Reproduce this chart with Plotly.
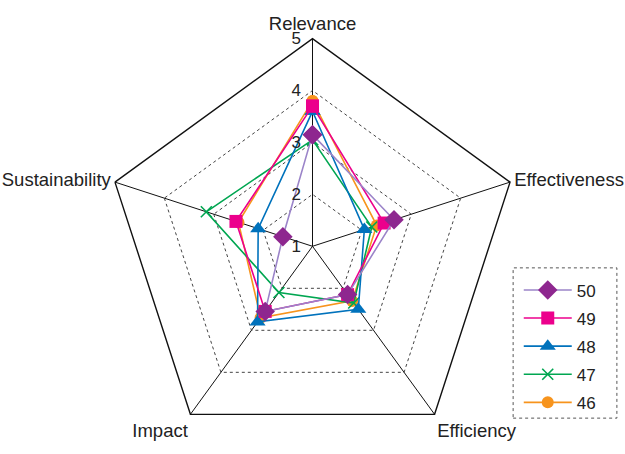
import plotly.graph_objects as go

# Evaluation criteria (clockwise from the top)
criteria = ["Relevance", "Effectiveness", "Efficiency", "Impact", "Sustainability"]

# Scores per project, same order as criteria
scores_50 = [3.15, 2.65, 2.15, 2.55, 1.6]
scores_49 = [3.7, 2.45, 2.15, 2.55, 2.55]
scores_48 = [3.6, 2.05, 2.5, 2.8, 2.1]
scores_47 = [3.05, 2.2, 2.35, 2.1, 3.15]
scores_46 = [3.8, 2.3, 2.3, 2.7, 2.5]

series_names = ["46", "47", "48", "49", "50"]
series_values = [scores_46, scores_47, scores_48, scores_49, scores_50]

styles = {
    "50": dict(line="#9B84C9", marker="#8E278F", symbol="diamond", size=15, rank=1),
    "49": dict(line="#EC008C", marker="#EC008C", symbol="square", size=13, rank=2),
    "48": dict(line="#0072BC", marker="#0072BC", symbol="triangle-up", size=14, rank=3),
    "47": dict(line="#00A651", marker="#00A651", symbol="x-thin", size=11, rank=4),
    "46": dict(line="#F7941D", marker="#F7941D", symbol="circle", size=12, rank=5),
}

FONT = "Liberation Sans, Arial, sans-serif"

fig = go.Figure()
for name, vals in zip(series_names, series_values):
    st = styles[name]
    fig.add_trace(go.Scatterpolar(
        r=vals + vals[:1],
        theta=criteria + criteria[:1],
        mode="lines+markers",
        name=name,
        legendgroup=name,
        legendrank=st["rank"],
        line=dict(color=st["line"], width=1.6),
        marker=dict(
            symbol=st["symbol"], size=st["size"], color=st["marker"],
            line=dict(color=st["marker"], width=1.6 if st["symbol"] == "x-thin" else 0),
        ),
    ))

fig.update_layout(
    width=625,
    height=454,
    margin=dict(l=0, r=0, t=0, b=0),
    paper_bgcolor="white",
    font=dict(family=FONT, size=16, color="#222"),
    polar=dict(
        domain=dict(x=[0, 1], y=[0, 0.915]),
        bgcolor="white",
        gridshape="linear",
        angularaxis=dict(
            rotation=90,
            direction="clockwise",
            showline=True,
            linecolor="#111",
            linewidth=1.4,
            gridcolor="#111",
            gridwidth=1.2,
            ticks="",
            tickfont=dict(family=FONT, size=18.5, color="#222"),
        ),
        radialaxis=dict(
            range=[1, 5],
            tickvals=[1, 2, 3, 4, 5],
            angle=90,
            tickangle=90,
            side="counterclockwise",
            showline=False,
            ticks="outside",
            ticklen=5,
            tickcolor="rgba(0,0,0,0)",
            gridcolor="#444",
            griddash="dot",
            gridwidth=1,
            tickfont=dict(family=FONT, size=17, color="#222"),
        ),
    ),
    legend=dict(
        x=0.83, y=0.4, xanchor="left", yanchor="top",
        traceorder="grouped",
        tracegroupgap=3,
        font=dict(family=FONT, size=17, color="#222"),
        bgcolor="rgba(0,0,0,0)",
        borderwidth=0,
        itemwidth=48,
    ),
    shapes=[dict(
        type="rect", xref="paper", yref="paper",
        x0=0.821, x1=0.987, y0=0.079, y1=0.41,
        line=dict(color="#555", width=1, dash="dot"),
    )],
)

fig.write_html("out.html")
